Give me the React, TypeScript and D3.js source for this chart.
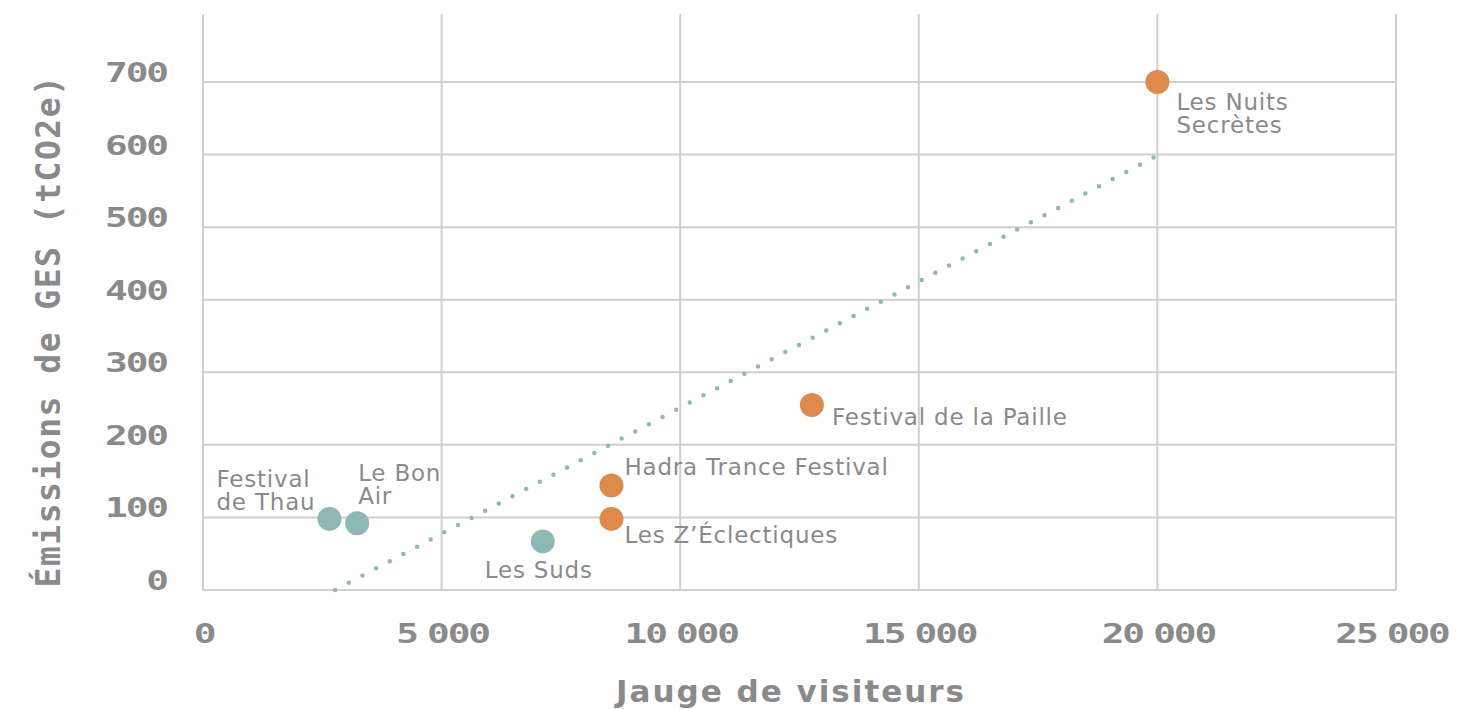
import React from "react";
import * as d3 from "d3";

const festivals = [
  "Festival de Thau",
  "Le Bon Air",
  "Les Suds",
  "Hadra Trance Festival",
  "Les Z’Éclectiques",
  "Festival de la Paille",
  "Les Nuits Secrètes",
];
const visitors = [2650, 3230, 7120, 8560, 8560, 12760, 20000];
const emissions = [98, 92, 67, 144, 98, 255, 700];
const groups = ["a", "a", "a", "b", "b", "b", "b"];
const labelLines = [
  ["Festival", "de Thau"],
  ["Le Bon", "Air"],
  ["Les Suds"],
  ["Hadra Trance Festival"],
  ["Les Z’Éclectiques"],
  ["Festival de la Paille"],
  ["Les Nuits", "Secrètes"],
];
const trendVisitors = [2770, 19920];
const trendEmissions = [0, 596];
const xTicks = [0, 5000, 10000, 15000, 20000, 25000];
const yTicks = [0, 100, 200, 300, 400, 500, 600, 700];

// label placement relative to its point: dx, dy of first baseline, anchor
const labelLayout: [number, number, string][] = [
  [-113, -32, "start"],
  [1, -42, "start"],
  [-4, 37, "middle"],
  [13, -10, "start"],
  [13, 24, "start"],
  [20, 20, "start"],
  [19, 28, "start"],
];

const colors: Record<string, string> = { a: "#8db8b4", b: "#de8a4b" };
const grid = "#cfcfcf";
const textGrey = "#8a8a8a";
const mono = "'DejaVu Sans Mono', monospace";
const sans = "'DejaVu Sans', sans-serif";

const fmt = (v: number) =>
  v >= 1000 ? `${Math.floor(v / 1000)} ${String(v % 1000).padStart(3, "0")}` : String(v);

function TickText({ x, y, anchor, v }: { x: number; y: number; anchor: string; v: number }) {
  return (
    <text
      transform={`translate(${x},${y}) scale(1.4,1)`}
      textAnchor={anchor as any}
      fontFamily={mono}
      fontWeight="bold"
      fontSize={27}
      letterSpacing={-1.5}
      wordSpacing={-7.5}
      fill={textGrey}
    >
      {fmt(v)}
    </text>
  );
}

export default function App() {
  const left = 203,
    right = 1396,
    bottom = 590,
    top = 14;
  const x = d3.scaleLinear().domain([0, 25000]).range([left, right]);
  const y = d3.scaleLinear().domain([0, 700]).range([bottom, 82]);

  const pts = trendVisitors.map((v, i) => [x(v), y(trendEmissions[i])] as [number, number]);
  const trendPath = d3.line()(pts) || "";
  const len = Math.hypot(pts[1][0] - pts[0][0], pts[1][1] - pts[0][1]);
  const gap = len / Math.round(len / 15.5);

  return (
    <svg
      width={1478}
      height={709}
      style={{ position: "absolute", left: 0, top: 0, background: "#fff" }}
    >
      {yTicks.map((t) => (
        <line key={"h" + t} x1={left} x2={right} y1={y(t)} y2={y(t)} stroke={grid} strokeWidth={2} />
      ))}
      {xTicks.map((t) => (
        <line key={"v" + t} x1={x(t)} x2={x(t)} y1={top} y2={bottom} stroke={grid} strokeWidth={2} />
      ))}
      {yTicks.map((t) => (
        <TickText key={"yt" + t} x={165 + 2} y={y(t)} anchor="end" v={t} />
      ))}
      {xTicks.map((t) => (
        <TickText key={"xt" + t} x={x(t) + (t === 25000 ? -4 : 1)} y={643} anchor="middle" v={t} />
      ))}
      <text
        transform={`translate(60,331) rotate(-90)`}
        textAnchor="middle"
        fontFamily={mono}
        fontWeight="bold"
        fontSize={33}
        letterSpacing={1.5}
        fill={textGrey}
      >
        Émissions de GES (tCO2e)
      </text>
      <text
        x={791}
        y={702}
        textAnchor="middle"
        fontFamily={sans}
        fontWeight="bold"
        fontSize={31}
        letterSpacing={2}
        fill={textGrey}
      >
        Jauge de visiteurs
      </text>
      <path
        d={trendPath}
        fill="none"
        stroke={colors.a}
        strokeWidth={4.5}
        strokeLinecap="round"
        strokeDasharray={`0 ${gap}`}
      />
      {festivals.map((f, i) => (
        <circle key={"c" + f} cx={x(visitors[i])} cy={y(emissions[i])} r={12} fill={colors[groups[i]]} />
      ))}
      {festivals.map((f, i) => {
        const [dx, dy, anchor] = labelLayout[i];
        const px = x(visitors[i]) + dx;
        const py = y(emissions[i]) + dy;
        return labelLines[i].map((ln, j) => (
          <text
            key={"l" + f + j}
            x={px}
            y={py + j * 23}
            textAnchor={anchor as any}
            fontFamily={sans}
            fontSize={23}
            letterSpacing={0.8}
            fill={textGrey}
          >
            {ln}
          </text>
        ));
      })}
    </svg>
  );
}
